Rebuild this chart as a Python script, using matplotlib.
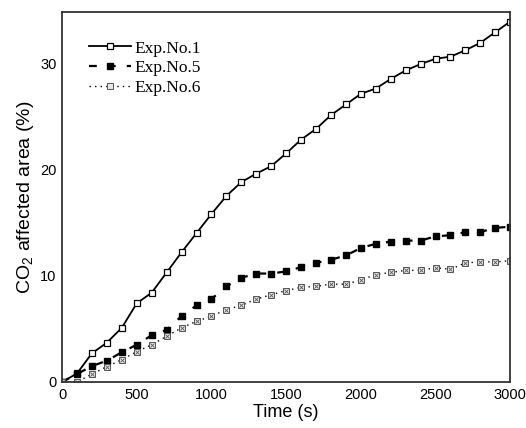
import matplotlib.pyplot as plt

plt.rcParams['font.family'] = ['Liberation Sans', 'DejaVu Sans']
plt.rcParams['mathtext.fontset'] = 'custom'
plt.rcParams['mathtext.rm'] = 'Liberation Sans'

time_s = [0, 100, 200, 300, 400, 500, 600, 700, 800, 900, 1000,
          1100, 1200, 1300, 1400, 1500, 1600, 1700, 1800, 1900, 2000,
          2100, 2200, 2300, 2400, 2500, 2600, 2700, 2800, 2900, 3000]

exp1 = [0, 0.8, 2.7, 3.7, 5.1, 7.4, 8.4, 10.3, 12.2, 14.0, 15.8,
        17.5, 18.8, 19.6, 20.3, 21.5, 22.8, 23.8, 25.1, 26.1, 27.1,
        27.6, 28.5, 29.3, 29.9, 30.4, 30.6, 31.2, 31.9, 32.9, 33.9]

exp5 = [0, 0.75, 1.5, 2.0, 2.8, 3.5, 4.4, 4.9, 6.2, 7.2, 7.8,
        9.0, 9.8, 10.2, 10.2, 10.4, 10.8, 11.2, 11.5, 11.9, 12.6,
        13.0, 13.2, 13.3, 13.3, 13.7, 13.8, 14.1, 14.1, 14.5, 14.6]

exp6 = [0, 0, 0.75, 1.45, 2.1, 2.85, 3.5, 4.3, 5.1, 5.7, 6.2,
        6.8, 7.2, 7.8, 8.2, 8.6, 8.9, 9.0, 9.2, 9.2, 9.6,
        10.1, 10.3, 10.5, 10.5, 10.75, 10.6, 11.2, 11.3, 11.3, 11.4]

fig = plt.figure(figsize=(5.26, 4.28), dpi=100)
ax = fig.add_axes([0.118, 0.1075, 0.852, 0.8645])

ax.plot(time_s, exp1, color='black', lw=1.3, marker='s', ms=5,
        mfc='white', mec='black', mew=0.9, label='Exp.No.1')
ax.plot(time_s, exp5, color='black', lw=1.6, ls=(0, (3.5, 5)), marker='s', ms=5,
        mfc='black', mec='black', label='Exp.No.5')
ax.plot(time_s, exp6, color='black', lw=1.0, ls=(0, (1, 3)), marker='s', ms=4.5,
        mfc='#e6e6e6', mec='#555555', mew=0.7, label='Exp.No.6')
# little cross inside the Exp.No.6 squares
ax.plot(time_s, exp6, ls='none', marker='x', ms=2.8, mec='#555555', mew=0.6)

ax.set_xlim(0, 3000)
ax.set_ylim(0, 34.8)
ax.set_xticks([0, 500, 1000, 1500, 2000, 2500, 3000])
ax.set_yticks([0, 10, 20, 30])
ax.tick_params(length=0, labelsize=10.5, pad=4)

for s in ax.spines.values():
    s.set_color('#333333')
    s.set_linewidth(1.3)

ax.set_xlabel('Time (s)', fontsize=13, labelpad=2)
ax.set_ylabel('CO$_2$ affected area (%)', fontsize=14, labelpad=3)

ax.legend(loc='upper left', bbox_to_anchor=(0.045, 0.942), frameon=False,
          prop={'family': 'Liberation Serif', 'size': 12.5},
          handlelength=2.4, handletextpad=0.2, labelspacing=0.2, borderaxespad=0)

fig.savefig('out.png', dpi=100)
